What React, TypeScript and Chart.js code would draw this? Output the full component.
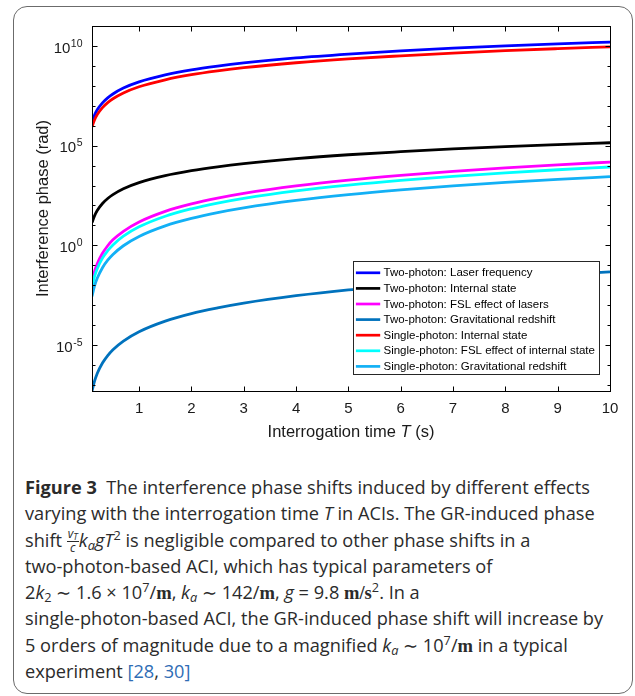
import React, { useEffect, useRef } from "react";
import { Chart, registerables } from "chart.js";

Chart.register(...registerables);

// ---------- data ----------
const interrogationTime = [0.1, 0.15, 0.2, 0.3, 0.4, 0.5, 0.7, 1, 1.5, 2, 2.5, 3, 4, 5, 6, 7, 8, 9, 10];

const tpLaserFrequency = [1.57e6, 3.5e6, 6.3e6, 1.41e7, 2.5e7, 3.9e7, 7.7e7, 1.57e8, 3.5e8, 6.3e8, 9.8e8, 1.41e9, 2.5e9, 3.9e9, 5.7e9, 7.7e9, 1.0e10, 1.27e10, 1.57e10];
const tpInternalState = [14, 31, 56, 126, 224, 350, 690, 1400, 3150, 5600, 8750, 1.26e4, 2.24e4, 3.5e4, 5.0e4, 6.9e4, 9.0e4, 1.13e5, 1.4e5];
const tpFslLasers = [0.015, 0.051, 0.12, 0.4, 0.96, 1.9, 5.1, 15, 51, 120, 234, 405, 960, 1880, 3240, 5150, 7700, 1.09e4, 1.5e4];
const tpGravRedshift = [5.0e-8, 1.6e-7, 3.8e-7, 1.27e-6, 3.0e-6, 5.9e-6, 1.6e-5, 4.7e-5, 1.6e-4, 3.8e-4, 7.3e-4, 1.27e-3, 3.0e-3, 5.9e-3, 1.0e-2, 1.6e-2, 2.4e-2, 3.4e-2, 4.7e-2];
const spInternalState = [9.0e5, 2.0e6, 3.6e6, 8.1e6, 1.44e7, 2.25e7, 4.4e7, 9.0e7, 2.0e8, 3.6e8, 5.6e8, 8.1e8, 1.44e9, 2.25e9, 3.2e9, 4.4e9, 5.8e9, 7.3e9, 9.0e9];
const spFslInternal = [0.0085, 0.029, 0.068, 0.23, 0.54, 1.06, 2.9, 8.5, 29, 68, 133, 230, 544, 1060, 1840, 2900, 4350, 6200, 8500];
const spGravRedshift = [0.0028, 0.0095, 0.0224, 0.076, 0.18, 0.35, 0.96, 2.8, 9.5, 22.4, 44, 76, 179, 350, 605, 960, 1430, 2040, 2800];

const seriesLabels = [
  "Two-photon: Laser frequency",
  "Two-photon: Internal state",
  "Two-photon: FSL effect of lasers",
  "Two-photon: Gravitational redshift",
  "Single-photon: Internal state",
  "Single-photon: FSL effect of internal state",
  "Single-photon: Gravitational redshift",
];
const seriesValues = [tpLaserFrequency, tpInternalState, tpFslLasers, tpGravRedshift, spInternalState, spFslInternal, spGravRedshift];
const seriesColors = ["#0000ff", "#000000", "#ff00ff", "#0072bd", "#ff0000", "#00ffff", "#12b0f5"];

const xTickValues = [1, 2, 3, 4, 5, 6, 7, 8, 9, 10];
const yDecadeExps = [-7, -6, -5, -4, -3, -2, -1, 0, 1, 2, 3, 4, 5, 6, 7, 8, 9, 10];
const yLabelExps = [-5, 0, 5, 10];
const X_MIN = 0.1;
const X_MAX = 10;
const Y_MIN = 5e-8;
const Y_MAX = 1e11;

const xTitleParts = ["Interrogation time ", "T", " (s)"];
const yTitle = "Interference phase (rad)";

// ---------- layout ----------
const AXIS_FONT = '"Liberation Sans", Arial, Helvetica, sans-serif';
const CANVAS_W = 635;
const CANVAS_H = 462;

const axesPlugin = {
  id: "matlabAxes",
  afterDraw(chart: any) {
    const { ctx, chartArea: ca } = chart;
    const xs = chart.scales.x;
    const ys = chart.scales.y;
    const L = Math.round(ca.left) + 0.5;
    const R = Math.round(ca.right) + 0.5;
    const T = Math.round(ca.top) + 0.5;
    const B = Math.round(ca.bottom) + 0.5;
    ctx.save();
    ctx.strokeStyle = "#000";
    ctx.lineWidth = 1;
    ctx.beginPath();
    // x ticks (inward, top & bottom)
    xTickValues.forEach((v) => {
      const px = Math.round(xs.getPixelForValue(v)) + 0.5;
      ctx.moveTo(px, B);
      ctx.lineTo(px, B - 5);
      ctx.moveTo(px, T);
      ctx.lineTo(px, T + 5);
    });
    // y ticks (inward, left & right)
    yDecadeExps.forEach((e) => {
      const py = Math.round(ys.getPixelForValue(Math.pow(10, e))) + 0.5;
      const len = e % 5 === 0 ? 5 : 3;
      ctx.moveTo(L, py);
      ctx.lineTo(L + len, py);
      ctx.moveTo(R, py);
      ctx.lineTo(R - len, py);
    });
    ctx.stroke();
    ctx.strokeRect(L, T, R - L, B - T);

    // y labels with superscripts
    ctx.fillStyle = "#1a1a1a";
    yLabelExps.forEach((e) => {
      const py = ys.getPixelForValue(Math.pow(10, e));
      const expText = String(e);
      ctx.font = `10.5px ${AXIS_FONT}`;
      const ew = ctx.measureText(expText).width;
      const expRight = ca.left - 9.5;
      ctx.textAlign = "left";
      ctx.textBaseline = "alphabetic";
      ctx.fillText(expText, expRight - ew, py + 0.8);
      ctx.font = `15px ${AXIS_FONT}`;
      const bw = ctx.measureText("10").width;
      ctx.fillText("10", expRight - ew - 0.5 - bw, py + 6.7);
    });

    // y title
    ctx.save();
    ctx.translate(43, (ca.top + ca.bottom) / 2);
    ctx.rotate(-Math.PI / 2);
    ctx.font = `16.5px ${AXIS_FONT}`;
    ctx.textAlign = "center";
    ctx.textBaseline = "middle";
    ctx.fillText(yTitle, 0, 0);
    ctx.restore();

    // x title with italic T
    const fonts = [`16.5px ${AXIS_FONT}`, `italic 16.5px ${AXIS_FONT}`, `16.5px ${AXIS_FONT}`];
    const widths = xTitleParts.map((p, i) => {
      ctx.font = fonts[i];
      return ctx.measureText(p).width;
    });
    const total = widths.reduce((a, b) => a + b, 0);
    let cx = (ca.left + ca.right) / 2 - total / 2;
    ctx.textAlign = "left";
    ctx.textBaseline = "middle";
    xTitleParts.forEach((p, i) => {
      ctx.font = fonts[i];
      ctx.fillText(p, cx, 432);
      cx += widths[i];
    });

    // legend
    const ds = chart.data.datasets;
    ctx.font = `11.5px ${AXIS_FONT}`;
    let maxW = 0;
    ds.forEach((d: any) => {
      maxW = Math.max(maxW, ctx.measureText(d.label).width);
    });
    const rowH = 15.6;
    const boxW = Math.round(30 + maxW + 5);
    const boxH = 113;
    const right = Math.round(ca.right - 11) + 0.5;
    const bottom = Math.round(ca.bottom - 17) + 0.5;
    const left = right - boxW;
    const top = bottom - boxH;
    ctx.fillStyle = "#ffffff";
    ctx.fillRect(left, top, boxW, boxH);
    ctx.strokeStyle = "#262626";
    ctx.lineWidth = 1;
    ctx.strokeRect(left, top, boxW, boxH);
    ds.forEach((d: any, i: number) => {
      const cy = top + 11.3 + rowH * i;
      ctx.strokeStyle = d.borderColor;
      ctx.lineWidth = 2.7;
      ctx.beginPath();
      ctx.moveTo(left + 2.4, cy);
      ctx.lineTo(left + 26.7, cy);
      ctx.stroke();
      ctx.fillStyle = "#000";
      ctx.textBaseline = "middle";
      ctx.fillText(d.label, left + 30, cy + 0.5);
    });
    ctx.restore();
  },
};

function ChartCanvas() {
  const ref = useRef<HTMLCanvasElement>(null);
  useEffect(() => {
    const canvas = ref.current;
    if (!canvas) return;
    const n = seriesLabels.length;
    const chart = new Chart(canvas, {
      type: "line",
      data: {
        datasets: seriesValues.map((vals, i) => ({
          label: seriesLabels[i],
          data: interrogationTime.map((t, j) => ({ x: t, y: vals[j] })),
          borderColor: seriesColors[i],
          backgroundColor: seriesColors[i],
          borderWidth: 2.8,
          pointRadius: 0,
          fill: false,
          cubicInterpolationMode: "monotone",
          order: n - i,
        })),
      },
      options: {
        responsive: false,
        maintainAspectRatio: false,
        animation: false,
        events: [],
        layout: { padding: { top: 26, right: 25, left: 0, bottom: 0 } },
        plugins: { legend: { display: false }, tooltip: { enabled: false }, title: { display: false } },
        scales: {
          x: {
            type: "linear",
            min: X_MIN,
            max: X_MAX,
            afterBuildTicks: (s: any) => {
              s.ticks = xTickValues.map((v) => ({ value: v }));
            },
            afterFit: (s: any) => {
              s.height = CANVAS_H - 391;
            },
            grid: { display: false, drawTicks: false },
            border: { display: false },
            ticks: {
              font: { family: AXIS_FONT, size: 15 },
              color: "#1a1a1a",
              padding: 9,
              maxRotation: 0,
              autoSkip: false,
              callback: (v: any) => String(v),
            },
          },
          y: {
            type: "logarithmic",
            min: Y_MIN,
            max: Y_MAX,
            afterBuildTicks: (s: any) => {
              s.ticks = yDecadeExps.map((e) => ({ value: Math.pow(10, e) }));
            },
            afterFit: (s: any) => {
              s.width = 92;
            },
            grid: { display: false, drawTicks: false },
            border: { display: false },
            ticks: { display: false },
          },
        },
      } as any,
      plugins: [axesPlugin],
    });
    return () => chart.destroy();
  }, []);
  return (
    <canvas
      ref={ref}
      width={CANVAS_W}
      height={CANVAS_H}
      style={{ position: "absolute", left: 0, top: 0, width: CANVAS_W, height: CANVAS_H }}
    />
  );
}

const CAP_FONT = '"Open Sans", "Noto Sans", sans-serif';
const mathSerif = '"Liberation Serif", "DejaVu Serif", serif';

function It({ children }: { children: React.ReactNode }) {
  return <span style={{ fontStyle: "italic" }}>{children}</span>;
}
function Sub({ children, italic }: { children: React.ReactNode; italic?: boolean }) {
  return (
    <span style={{ fontSize: "0.7em", verticalAlign: "-0.25em", fontStyle: italic ? "italic" : "normal", lineHeight: 0 }}>
      {children}
    </span>
  );
}
function Sup({ children }: { children: React.ReactNode }) {
  return <span style={{ fontSize: "0.7em", verticalAlign: "0.55em", lineHeight: 0 }}>{children}</span>;
}
function Unit({ children }: { children: React.ReactNode }) {
  return <span style={{ fontFamily: mathSerif, fontWeight: 700, fontSize: "1.02em" }}>{children}</span>;
}

function Caption() {
  const lineStyle: React.CSSProperties = { height: 26.3, lineHeight: "26.3px", whiteSpace: "nowrap" };
  return (
    <div
      style={{
        position: "absolute",
        left: 25,
        top: 474,
        fontFamily: CAP_FONT,
        fontSize: 18.2,
        color: "#2b2b2b",
        letterSpacing: "0px",
      }}
    >
      <div style={lineStyle}>
        <span style={{ fontWeight: 700 }}>Figure 3</span>&nbsp;&nbsp;The interference phase shifts induced by different effects
      </div>
      <div style={lineStyle}>
        varying with the interrogation time <It>T</It> in ACIs. The GR-induced phase
      </div>
      <div style={lineStyle}>
        shift{" "}
        <span
          style={{
            display: "inline-flex",
            flexDirection: "column",
            alignItems: "center",
            verticalAlign: "middle",
            fontSize: 12,
            lineHeight: "11px",
            fontStyle: "italic",
            position: "relative",
            top: -1,
          }}
        >
          <span style={{ borderBottom: "1px solid #2b2b2b", padding: "0 1px 1px" }}>
            v<span style={{ fontSize: 9, position: "relative", top: 2 }}>T</span>
          </span>
          <span>c</span>
        </span>
        <It>k</It>
        <Sub italic>a</Sub>
        <It>gT</It>
        <Sup>2</Sup> is negligible compared to other phase shifts in a
      </div>
      <div style={lineStyle}>two-photon-based ACI, which has typical parameters of</div>
      <div style={lineStyle}>
        2<It>k</It>
        <Sub>2</Sub> ∼ 1.6 × 10<Sup>7</Sup>/<Unit>m</Unit>, <It>k</It>
        <Sub italic>a</Sub> ∼ 142/<Unit>m</Unit>, <It>g</It> = 9.8 <Unit>m/s</Unit>
        <Sup>2</Sup>. In a
      </div>
      <div style={lineStyle}>single-photon-based ACI, the GR-induced phase shift will increase by</div>
      <div style={lineStyle}>
        5 orders of magnitude due to a magnified <It>k</It>
        <Sub italic>a</Sub> ∼ 10<Sup>7</Sup>/<Unit>m</Unit> in a typical
      </div>
      <div style={lineStyle}>
        experiment <span style={{ color: "#2f6db5" }}>[28</span>, <span style={{ color: "#2f6db5" }}>30]</span>
      </div>
    </div>
  );
}

export default function App() {
  return (
    <div
      style={{
        position: "fixed",
        left: 0,
        top: 0,
        width: 635,
        height: 696,
        overflow: "hidden",
        background: "#ffffff",
      }}
    >
      <div
        style={{
          position: "absolute",
          left: 12.5,
          top: 6,
          width: 620,
          height: 688,
          border: "1.5px solid #6b6b6b",
          borderRadius: 14,
          boxSizing: "border-box",
        }}
      />
      <ChartCanvas />
      <Caption />
    </div>
  );
}
